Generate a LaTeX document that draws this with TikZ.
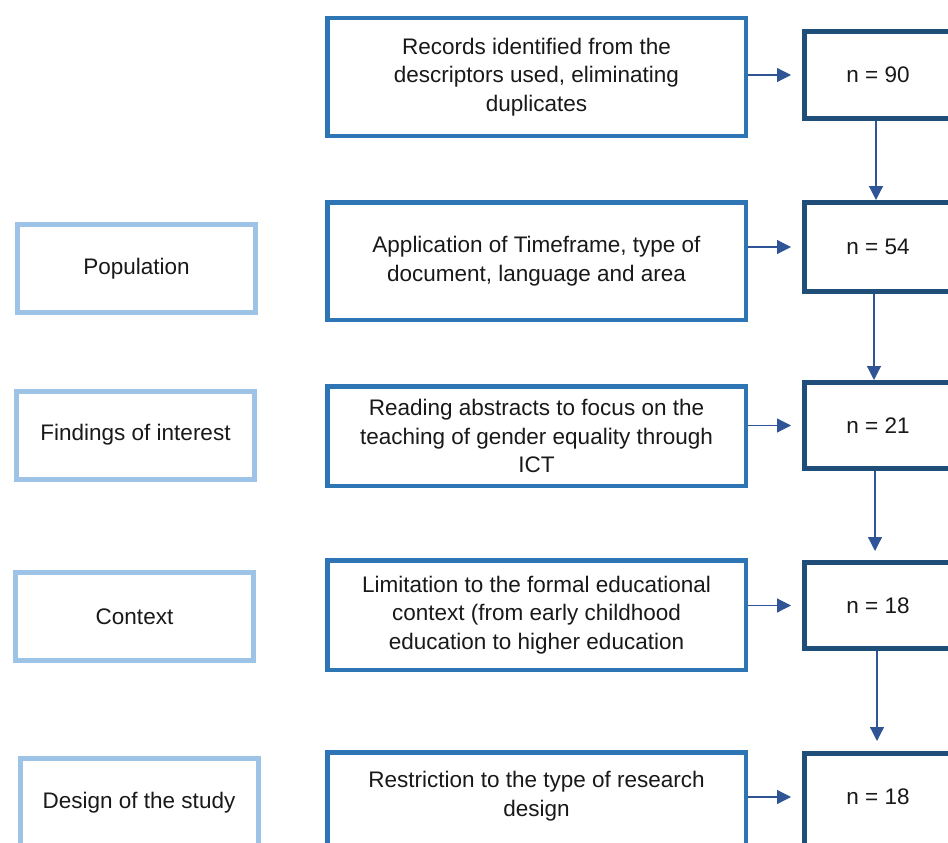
\documentclass[tikz,border=0pt]{standalone}
\usepackage{fontspec}
\setmainfont{Liberation Sans}
\usetikzlibrary{arrows.meta}
\definecolor{lightb}{HTML}{9DC3E6}
\definecolor{midb}{HTML}{2E75B6}
\definecolor{darkb}{HTML}{1F4E79}
\definecolor{arrc}{HTML}{2F5597}
\begin{document}
\begin{tikzpicture}[x=1pt,y=-1pt,
  txt/.style={font=\fontsize{22.5}{28.8}\selectfont, text=black!90, align=center, inner sep=0pt},
  leftbox/.style={txt, draw=lightb, line width=5pt, minimum width=238pt, minimum height=88pt},
  midbox/.style={txt, draw=midb, line width=4.5pt, minimum width=418.5pt},
  rightbox/.style={txt, draw=darkb, line width=5pt, minimum width=147pt},
  arr/.style={draw=arrc, line width=1.2pt, -{Triangle[length=14pt,width=14pt]}},
]
\useasboundingbox (0,0) rectangle (948,843);
\clip (0,0) rectangle (948,843);
\fill[white] (0,0) rectangle (948,843);

% left boxes
\node[leftbox] (l1) at (136.5,268.5) {Population};
\node[leftbox] (l2) at (135.5,435) {Findings of interest};
\node[leftbox] (l3) at (134.5,616.5) {Context};
\node[leftbox] (l4) at (139,802.5) {Design of the study};

% middle boxes
\node[midbox, minimum height=117.5pt] (m1) at (536.5,77) {Records identified from the\\descriptors used, eliminating\\duplicates};
\node[midbox, minimum height=117.5pt] (m2) at (536.5,261) {Application of Timeframe, type of\\document, language and area};
\node[midbox, minimum height=99.5pt] (m3) at (536.5,436) {Reading abstracts to focus on the\\teaching of gender equality through\\ICT};
\node[midbox, minimum height=109.5pt] (m4) at (536.5,615) {Limitation to the formal educational\\context (from early childhood\\education to higher education};
\node[midbox, minimum height=115pt] (m5) at (536.5,810) {};
\node[txt] (m5t) at (536.5,796) {Restriction to the type of research\\design};

% right boxes
\node[rightbox, minimum height=87pt] (r1) at (878,75) {n = 90};
\node[rightbox, minimum height=89pt] (r2) at (878,247) {n = 54};
\node[rightbox, minimum height=86pt] (r3) at (878,425.5) {n = 21};
\node[rightbox, minimum height=86pt] (r4) at (878,605.5) {n = 18};
\node[rightbox, minimum height=110pt] (r5) at (878,808.5) {};
\node[txt] (r5t) at (878,797) {n = 18};

% horizontal arrows
\draw[arr, shorten >=11pt] (m1.east |- r1.west) -- (r1.west);
\draw[arr, shorten >=11pt] (m2.east |- r2.west) -- (r2.west);
\draw[arr, shorten >=11pt] (m3.east |- r3.west) -- (r3.west);
\draw[arr, shorten >=11pt] (m4.east |- r4.west) -- (r4.west);
\coordinate (r5w) at (r5.west |- r5t);
\draw[arr, shorten >=11pt] (m5.east |- r5w) -- (r5w);

% vertical arrows
\draw[arr] ([xshift=-2pt]r1.south) -- ([xshift=-2pt]r2.north);
\draw[arr] ([xshift=-4pt]r2.south) -- ([xshift=-4pt]r3.north);
\draw[arr, shorten >=9pt] ([xshift=-3pt]r3.south) -- ([xshift=-3pt]r4.north);
\draw[arr, shorten >=10pt] ([xshift=-1pt]r4.south) -- ([xshift=-1pt]r4.south |- r5.north);
\end{tikzpicture}
\end{document}
